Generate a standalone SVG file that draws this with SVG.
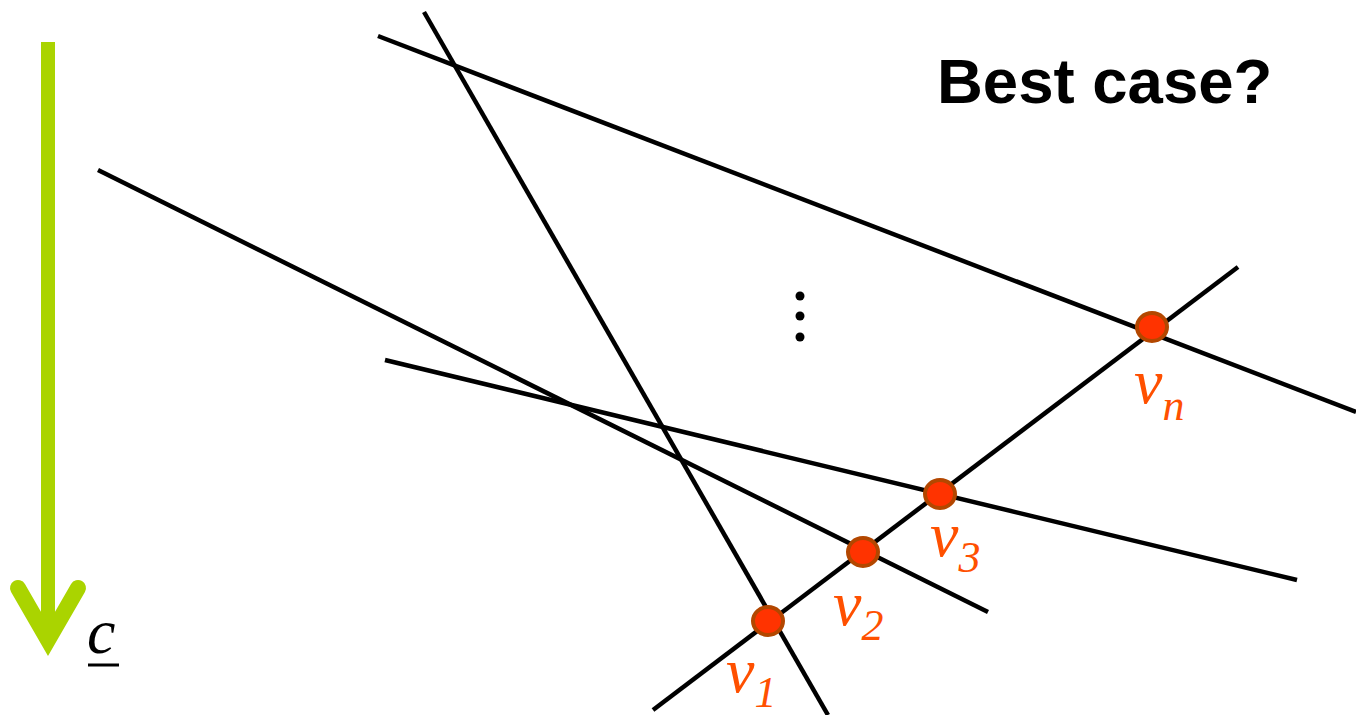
<svg xmlns="http://www.w3.org/2000/svg" width="1356" height="715" viewBox="0 0 1356 715">
<style>
.ln{stroke:#000;stroke-width:4.5;fill:none}
.pt{fill:#ff3300;stroke:#b34700;stroke-width:4}
.lbl{font-family:"Liberation Serif",serif;font-style:italic;fill:#ff5000;font-size:64px}
.sub{font-size:44px}
</style>
<rect width="1356" height="715" fill="#fff"/>
<g id="objective-arrow">
<line x1="48" y1="42" x2="48" y2="640" stroke="#aad400" stroke-width="14"/>
<path d="M18,588 L48,640 L78,588" stroke="#aad400" stroke-width="16" fill="none" stroke-linecap="round" stroke-linejoin="miter"/>
<text x="87" y="653" font-family="Liberation Serif,serif" font-style="italic" font-size="64" fill="#000">c</text>
<line x1="88" y1="665" x2="119" y2="665" stroke="#000" stroke-width="3"/>
</g>
<g id="connectors">
<line class="ln" x1="378" y1="36" x2="1356" y2="412"/>
<line class="ln" x1="424" y1="12" x2="828" y2="715"/>
<line class="ln" x1="98" y1="170" x2="988" y2="612"/>
<line class="ln" x1="385" y1="360" x2="1297" y2="580"/>
<line class="ln" x1="653" y1="710" x2="1238" y2="267"/>
</g>
<g id="dots">
<circle cx="800" cy="296" r="4.5"/>
<circle cx="800" cy="316" r="4.5"/>
<circle cx="800" cy="337" r="4.5"/>
</g>
<g id="v1">
<ellipse class="pt" cx="768" cy="621" rx="15" ry="14"/>
<text class="lbl" x="726" y="692">v<tspan class="sub" dy="15">1</tspan></text>
</g>
<g id="v2">
<ellipse class="pt" cx="863" cy="552" rx="15" ry="14"/>
<text class="lbl" x="833" y="625">v<tspan class="sub" dy="15">2</tspan></text>
</g>
<g id="v3">
<ellipse class="pt" cx="940" cy="494" rx="15" ry="14"/>
<text class="lbl" x="930" y="556">v<tspan class="sub" dy="16">3</tspan></text>
</g>
<g id="vn">
<ellipse class="pt" cx="1152" cy="327" rx="15" ry="14"/>
<text class="lbl" x="1134" y="403">v<tspan class="sub" dy="17">n</tspan></text>
</g>
<g id="title">
<text x="937" y="103" font-family="Liberation Sans,Arial,sans-serif" font-weight="bold" font-size="63.5" fill="#000">Best case?</text>
</g>
</svg>
